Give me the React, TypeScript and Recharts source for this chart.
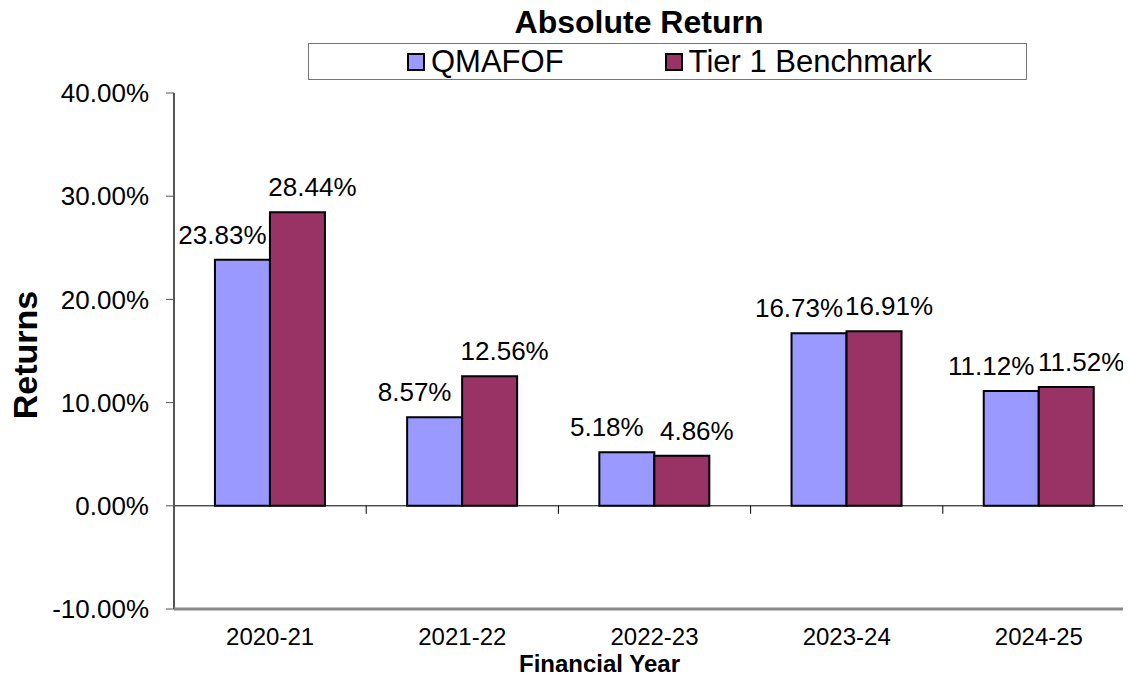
import React from 'react';
import {
  BarChart,
  Bar,
  XAxis,
  YAxis,
  Legend,
  LabelList,
  ReferenceLine,
} from 'recharts';

const categories = ['2020-21', '2021-22', '2022-23', '2023-24', '2024-25'];
const qmafofReturns = [23.83, 8.57, 5.18, 16.73, 11.12];
const tier1Returns = [28.44, 12.56, 4.86, 16.91, 11.52];
const yTicks = [-10, 0, 10, 20, 30, 40];

const FONT = '"Liberation Sans", Arial, sans-serif';
const BLUE = '#9999ff';
const PURPLE = '#993366';

const data = categories.map((year, i) => ({
  year,
  qmafof: qmafofReturns[i],
  tier1: tier1Returns[i],
}));

const pct = (v: number) => `${Number(v).toFixed(2)}%`;

// value label above a bar, nudged sideways like the excel layout
function valueLabel(dx: number) {
  return (props: any) => {
    const { x, y, width, value } = props;
    return (
      <text
        x={Number(x) + Number(width) / 2 + dx}
        y={Number(y) - 16}
        textAnchor="middle"
        fontSize={26}
        fontFamily={FONT}
        fill="#000"
      >
        {pct(value)}
      </text>
    );
  };
}

// zero line with the category tick marks hanging below it
function ZeroLine(props: any) {
  const { x1, y1, x2 } = props;
  const n = categories.length;
  const step = (x2 - x1) / n;
  return (
    <g>
      <line x1={x1} y1={y1} x2={x2} y2={y1} stroke="#000" strokeWidth={1} />
      {categories.slice(1).map((c, i) => (
        <line
          key={c}
          x1={x1 + step * (i + 1)}
          y1={y1}
          x2={x1 + step * (i + 1)}
          y2={y1 + 8}
          stroke="#000"
          strokeWidth={1}
        />
      ))}
    </g>
  );
}

function LegendBox() {
  const item = (color: string, label: string, gap: number) => (
    <span style={{ display: 'inline-flex', alignItems: 'center', marginRight: gap }}>
      <span
        style={{
          boxSizing: 'border-box',
          width: 18,
          height: 18,
          background: color,
          border: '2px solid #000',
          marginRight: 6,
        }}
      />
      {label}
    </span>
  );
  return (
    <div
      style={{
        boxSizing: 'border-box',
        width: 719,
        height: 37,
        border: '1px solid #777',
        background: '#fff',
        display: 'flex',
        alignItems: 'center',
        paddingLeft: 98,
        fontFamily: FONT,
        fontSize: 31,
        lineHeight: '31px',
        color: '#000',
      }}
    >
      {item(BLUE, 'QMAFOF', 101)}
      {item(PURPLE, 'Tier 1 Benchmark', 0)}
    </div>
  );
}

export default function App() {
  return (
    <div
      style={{
        position: 'relative',
        width: 1131,
        height: 680,
        margin: -8,
        overflow: 'hidden',
        fontFamily: FONT,
      }}
    >
      <div
        style={{
          position: 'absolute',
          left: 0,
          width: 1278,
          top: 6,
          textAlign: 'center',
          fontWeight: 'bold',
          fontSize: 32,
          lineHeight: '32px',
        }}
      >
        Absolute Return
      </div>
      <BarChart
        width={1131}
        height={680}
        data={data}
        margin={{ top: 56, right: -4, bottom: 11, left: 0 }}
        barCategoryGap="21.3%"
        barGap={0}
      >
        <Legend
          verticalAlign="top"
          content={() => <LegendBox />}
          wrapperStyle={{ top: 43, left: 308, width: 719, height: 37 }}
        />
        <YAxis
          width={174}
          domain={[-10, 40]}
          ticks={yTicks}
          tickFormatter={pct}
          allowDataOverflow
          axisLine={{ stroke: '#555', strokeWidth: 2 }}
          tickLine={{ stroke: '#555' }}
          tickSize={8}
          tickMargin={17}
          tick={{ fontSize: 26, fill: '#000', fontFamily: FONT }}
          label={{
            content: (p: any) => {
              const vb = p.viewBox;
              const cx = 25;
              const cy = vb.y + vb.height / 2 + 4;
              return (
                <text
                  x={cx}
                  y={cy}
                  transform={`rotate(-90 ${cx} ${cy})`}
                  textAnchor="middle"
                  dominantBaseline="central"
                  fontSize={34}
                  fontWeight="bold"
                  fontFamily={FONT}
                  fill="#000"
                >
                  Returns
                </text>
              );
            },
          }}
        />
        <XAxis
          dataKey="year"
          height={60}
          interval={0}
          axisLine={{ stroke: '#888', strokeWidth: 3 }}
          tickLine={false}
          tickSize={0}
          tickMargin={19}
          tick={{ fontSize: 24, fill: '#000', fontFamily: FONT }}
          label={{
            content: (p: any) => {
              const vb = p.viewBox;
              return (
                <text
                  x={vb.x + vb.width / 2 - 55}
                  y={vb.y + 63}
                  textAnchor="middle"
                  fontSize={24}
                  fontWeight="bold"
                  fontFamily={FONT}
                  fill="#000"
                >
                  Financial Year
                </text>
              );
            },
          }}
        />
        <ReferenceLine y={0} shape={ZeroLine} />
        <Bar dataKey="qmafof" name="QMAFOF" fill={BLUE} stroke="#000" strokeWidth={2} isAnimationActive={false}>
          <LabelList dataKey="qmafof" content={valueLabel(-20)} />
        </Bar>
        <Bar dataKey="tier1" name="Tier 1 Benchmark" fill={PURPLE} stroke="#000" strokeWidth={2} isAnimationActive={false}>
          <LabelList dataKey="tier1" content={valueLabel(15)} />
        </Bar>
      </BarChart>
    </div>
  );
}
